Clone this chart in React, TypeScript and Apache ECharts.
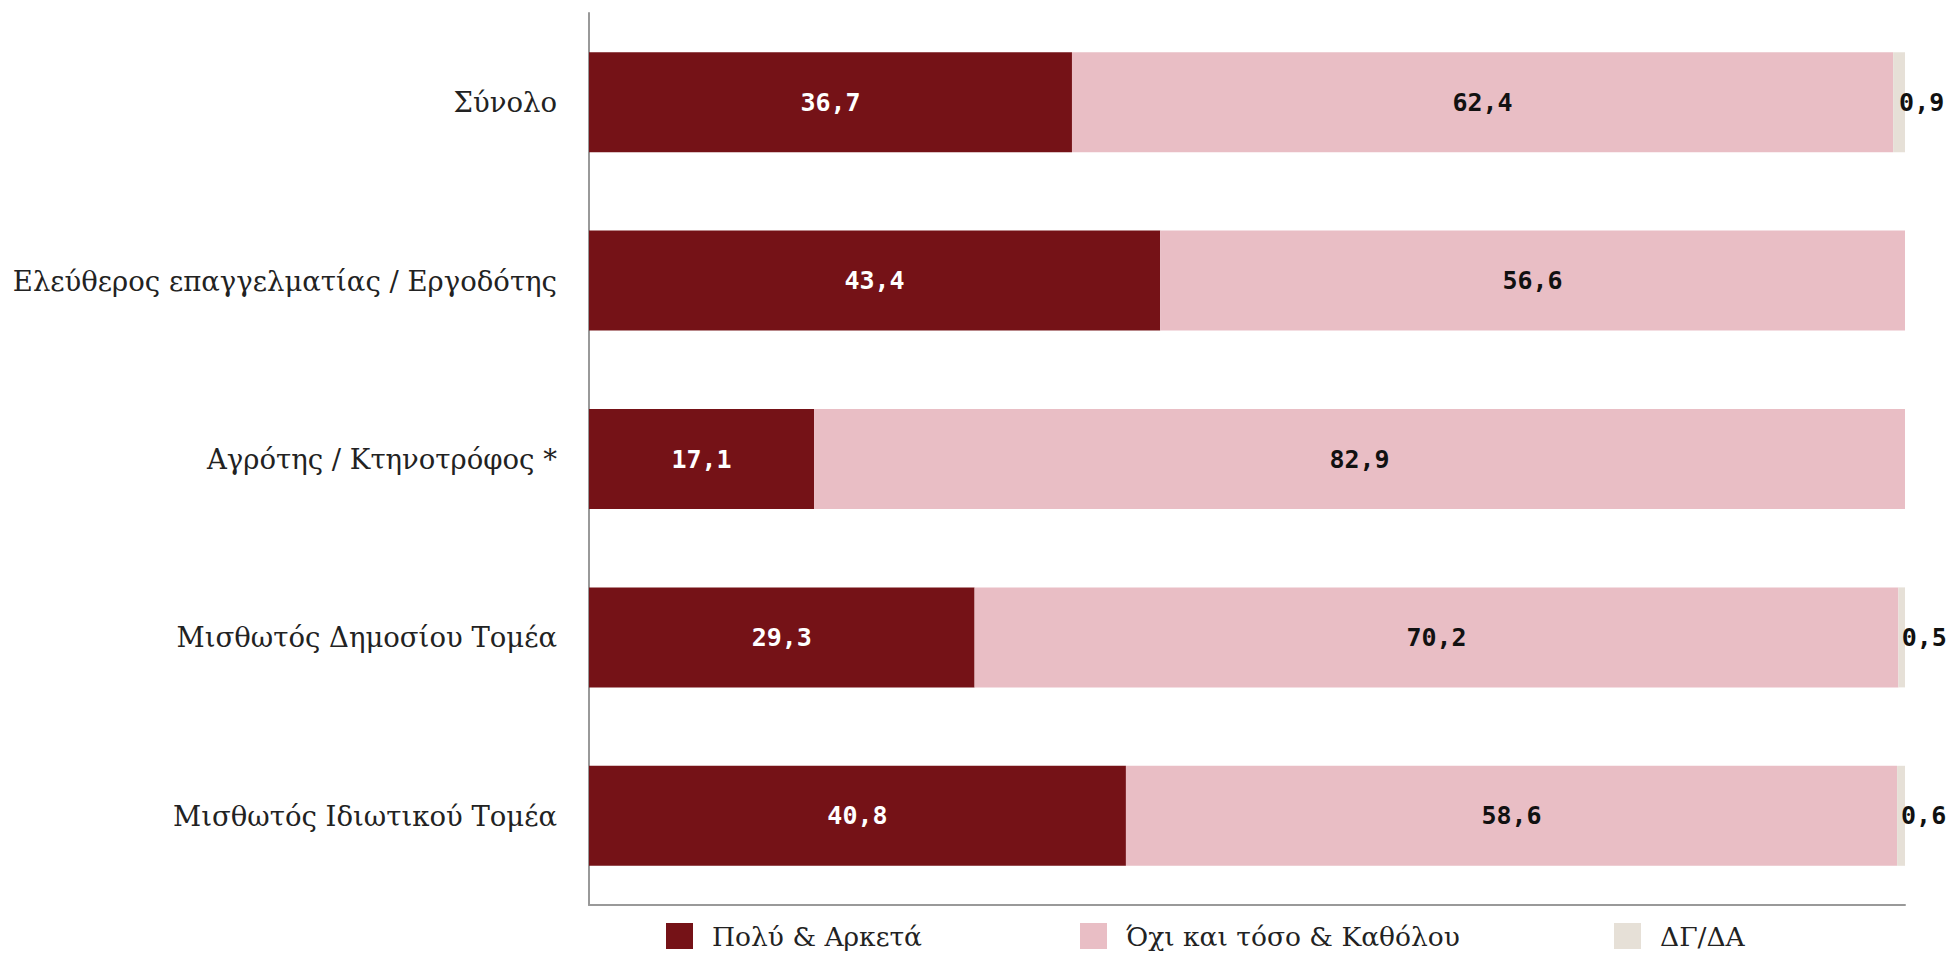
import React, { useEffect, useRef } from "react";
import * as echarts from "echarts";

const categories = [
  "Σύνολο",
  "Ελεύθερος επαγγελματίας / Εργοδότης",
  "Αγρότης / Κτηνοτρόφος *",
  "Μισθωτός Δημοσίου Τομέα",
  "Μισθωτός Ιδιωτικού Τομέα",
];
const seriesNames = ["Πολύ & Αρκετά", "Όχι και τόσο & Καθόλου", "ΔΓ/ΔΑ"];
const muchValues = [36.7, 43.4, 17.1, 29.3, 40.8];
const notValues = [62.4, 56.6, 82.9, 70.2, 58.6];
const dkValues: (number | null)[] = [0.9, null, null, 0.5, 0.6];
const colors = ["#751217", "#e9bec5", "#e6e0d7"];

const fmt = (p: any) =>
  p.value == null || p.value === 0 ? "" : String(p.value.toFixed(1)).replace(".", ",");

export default function App() {
  const ref = useRef<HTMLDivElement>(null);
  useEffect(() => {
    if (!ref.current) return;
    const chart = echarts.init(ref.current, null, { renderer: "svg" });
    const monoLabel = {
      show: true,
      fontFamily: "DejaVu Sans Mono",
      fontSize: 25,
      formatter: fmt,
    };
    const serif = "DejaVu Serif";
    const legendCommon = {
      orient: "horizontal",
      top: 922,
      itemWidth: 27,
      itemHeight: 26,
      icon: "rect",
      selectedMode: false,
      padding: 0,
      textStyle: {
        fontFamily: serif,
        fontSize: 26.5,
        lineHeight: 28,
        color: "#222",
        padding: [0, 0, 0, 14],
      },
    };
    chart.setOption({
      animation: false,
      grid: { left: 589, right: 52, top: 13, bottom: 48, containLabel: false },
      legend: [
        { ...legendCommon, left: 666, data: [seriesNames[0]] },
        { ...legendCommon, left: 1080, data: [seriesNames[1]] },
        { ...legendCommon, left: 1614, data: [seriesNames[2]] },
      ],
      xAxis: {
        type: "value",
        min: 0,
        max: 100,
        axisLabel: { show: false },
        splitLine: { show: false },
        axisTick: { show: false },
        axisLine: { show: true, lineStyle: { color: "#999", width: 2 } },
      },
      yAxis: {
        type: "category",
        inverse: true,
        data: categories,
        axisTick: { show: false },
        axisLine: { show: true, lineStyle: { color: "#999", width: 2 } },
        axisLabel: {
          fontFamily: serif,
          fontSize: 27.5,
          color: "#222",
          margin: 32,
        },
      },
      series: [
        {
          name: seriesNames[0],
          type: "bar",
          stack: "total",
          barWidth: 100,
          data: muchValues,
          itemStyle: { color: colors[0] },
          label: { ...monoLabel, position: "inside", color: "#fff", fontWeight: "bold" },
        },
        {
          name: seriesNames[1],
          type: "bar",
          stack: "total",
          barWidth: 100,
          data: notValues,
          itemStyle: { color: colors[1] },
          label: { ...monoLabel, position: "inside", color: "#111", fontWeight: "bold" },
        },
        {
          name: seriesNames[2],
          type: "bar",
          stack: "total",
          barWidth: 100,
          data: dkValues,
          itemStyle: { color: colors[2] },
          label: { ...monoLabel, position: "inside", align: "left", color: "#111", fontWeight: "bold" },
        },
      ],
    });
    return () => chart.dispose();
  }, []);
  return (
    <div
      ref={ref}
      style={{ position: "fixed", left: 0, top: 0, width: 1957, height: 953, background: "#fff" }}
    />
  );
}
